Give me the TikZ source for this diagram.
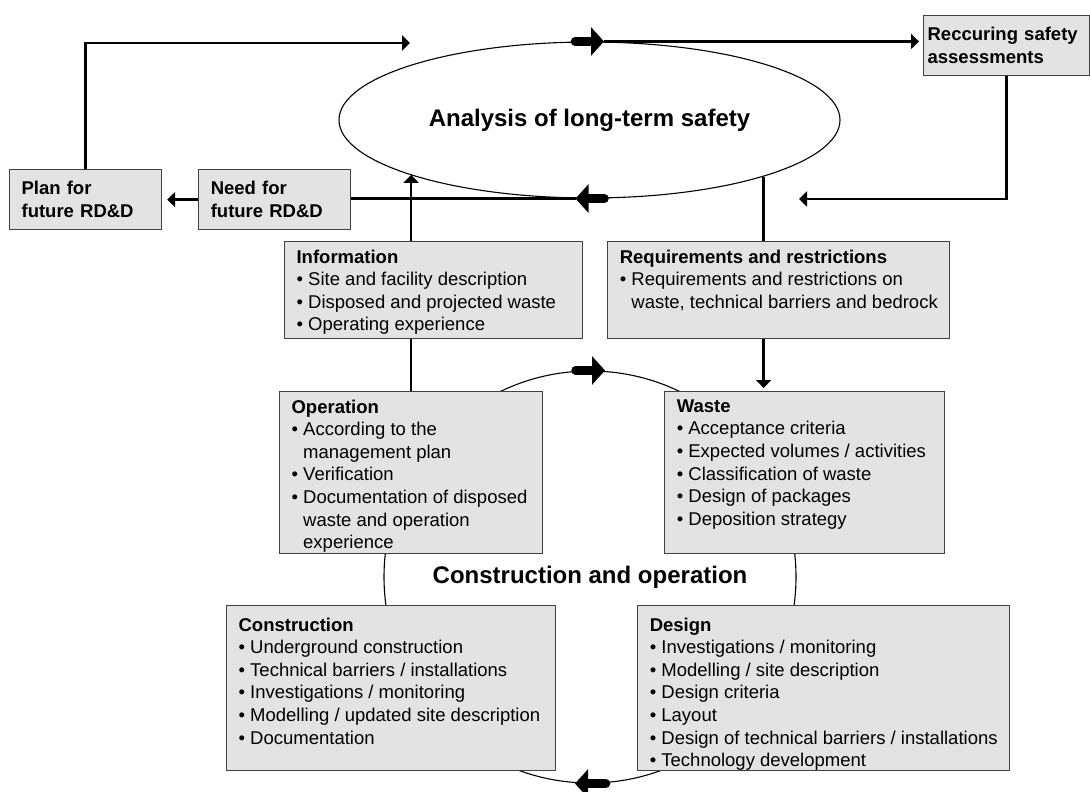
\documentclass[tikz,border=0pt]{standalone}
\usepackage{fontspec}
\setmainfont{Liberation Sans}
\usepackage{xcolor}
\usetikzlibrary{shapes.geometric, arrows.meta, positioning}

\definecolor{boxgray}{RGB}{227,227,227}

\newcommand{\bul}[1]{\par\hangindent=11.6pt\hangafter=1 \textbullet\ #1}
\newcommand{\boxbody}[3]{\hspace*{12pt}\parbox[t][#2][t]{#1}{\raggedright #3}}

\begin{document}
\begin{tikzpicture}[x=1pt, y=-1pt, node distance=36pt, font=\fontsize{18.5}{22.6}\selectfont]
    \tikzstyle{infobox} = [draw=black!75, line width=1.2pt, fill=boxgray, inner xsep=0pt, inner ysep=8pt, anchor=north west]
    \tikzstyle{rdbox} = [infobox, font=\fontsize{18.5}{23.5}\selectfont\bfseries, align=left, inner xsep=12pt, minimum height=60pt, text width=128pt]
    \tikzstyle{bigtitle} = [font=\fontsize{24}{28}\selectfont\bfseries]
    \tikzstyle{conn} = [draw, line width=2.4pt, -{Triangle[length=8pt, width=15pt]}]
    \tikzstyle{bigarrow} = [draw, line width=8.5pt, line cap=round, -{Triangle[length=13pt, width=28pt]}]

    \useasboundingbox (0,0) rectangle (1090,792);

    % safety analysis and the construction/operation cycle
    \node [ellipse, draw, line width=1.1pt, minimum width=501pt, minimum height=156pt, inner sep=0pt, bigtitle] (lts) at (589.5,120) {Analysis of long-term safety};
    \node [circle, draw, line width=1.1pt, minimum size=412pt, inner sep=0pt, bigtitle] (cyc) at (590,577) {Construction and operation};

    % RD&D and assessments
    \node [rdbox] (plan) at (9,169) {Plan for\\ future RD\&D};
    \node [rdbox, right=36pt of plan] (need) {Need for\\ future RD\&D};
    \node [rdbox, text width=158pt, inner xsep=4pt] (rec) at (923,15) {Reccuring safety\\ assessments};

    \node [infobox] (info) at (284,241) {\boxbody{286pt}{81pt}{\textbf{Information}
        \bul{Site and facility description}
        \bul{Disposed and projected waste}
        \bul{Operating experience}}};
    \node [infobox, right=24pt of info] (req) {\boxbody{330pt}{81pt}{\textbf{Requirements and restrictions}
        \bul{Requirements and restrictions on\newline waste, technical barriers and bedrock}}};

    \node [infobox] (op) at (279,391) {\boxbody{251pt}{146pt}{\textbf{Operation}
        \bul{According to the\newline management plan}
        \bul{Verification}
        \bul{Documentation of disposed\newline waste and operation\newline experience}}};
    \node [infobox, right=121pt of op] (waste) {\boxbody{268pt}{146pt}{\textbf{Waste}
        \bul{Acceptance criteria}
        \bul{Expected volumes / activities}
        \bul{Classification of waste}
        \bul{Design of packages}
        \bul{Deposition strategy}}};

    \node [infobox] (cons) at (226,605) {\boxbody{317pt}{149pt}{\vspace*{4pt}\textbf{Construction}
        \bul{Underground construction}
        \bul{Technical barriers / installations}
        \bul{Investigations / monitoring}
        \bul{Modelling / updated site description}
        \bul{Documentation}}};
    \node [infobox, right=81pt of cons] (design) {\boxbody{360pt}{149pt}{\vspace*{4pt}\textbf{Design}
        \bul{Investigations / monitoring}
        \bul{Modelling / site description}
        \bul{Design criteria}
        \bul{Layout}
        \bul{Design of technical barriers / installations}
        \bul{Technology development}}};

    \coordinate (topin) at (410,43);
    \coordinate (fbin) at (799,199);

    % flow round the analysis
    \path [bigarrow] ([xshift=-14.5pt]lts.north) -- ([xshift=14.5pt]lts.north);
    \path [conn, shorten >=4pt] ([xshift=14.5pt]lts.north) -- (rec.west |- lts.north);
    \path [bigarrow] ([xshift=15pt]lts.south) -- ([xshift=-14pt]lts.south);
    \path [conn, -] ([xshift=-14pt]lts.south) -- (need.east |- lts.south);
    \path [conn, shorten >=5pt] (need) -- (plan);
    \path [conn] (plan.north) |- (topin);
    \path [conn] (rec.south) |- (fbin);

    \path [conn, -] (op.north |- info.south) -- (op.north);
    \path [conn] (op.north |- info.north) -- (op.north |- lts.197);
    \path [conn, -] (lts.-18.7) -- (lts.-18.7 |- req.north);
    \path [conn, shorten >=3pt] (lts.-18.7 |- req.south) -- (lts.-18.7 |- waste.north);

    % flow round the cycle
    \path [bigarrow] ([xshift=-14.5pt]cyc.north) -- ([xshift=15pt]cyc.north);
    \path [bigarrow] ([xshift=16pt]cyc.south) -- ([xshift=-15pt]cyc.south);
\end{tikzpicture}
\end{document}
